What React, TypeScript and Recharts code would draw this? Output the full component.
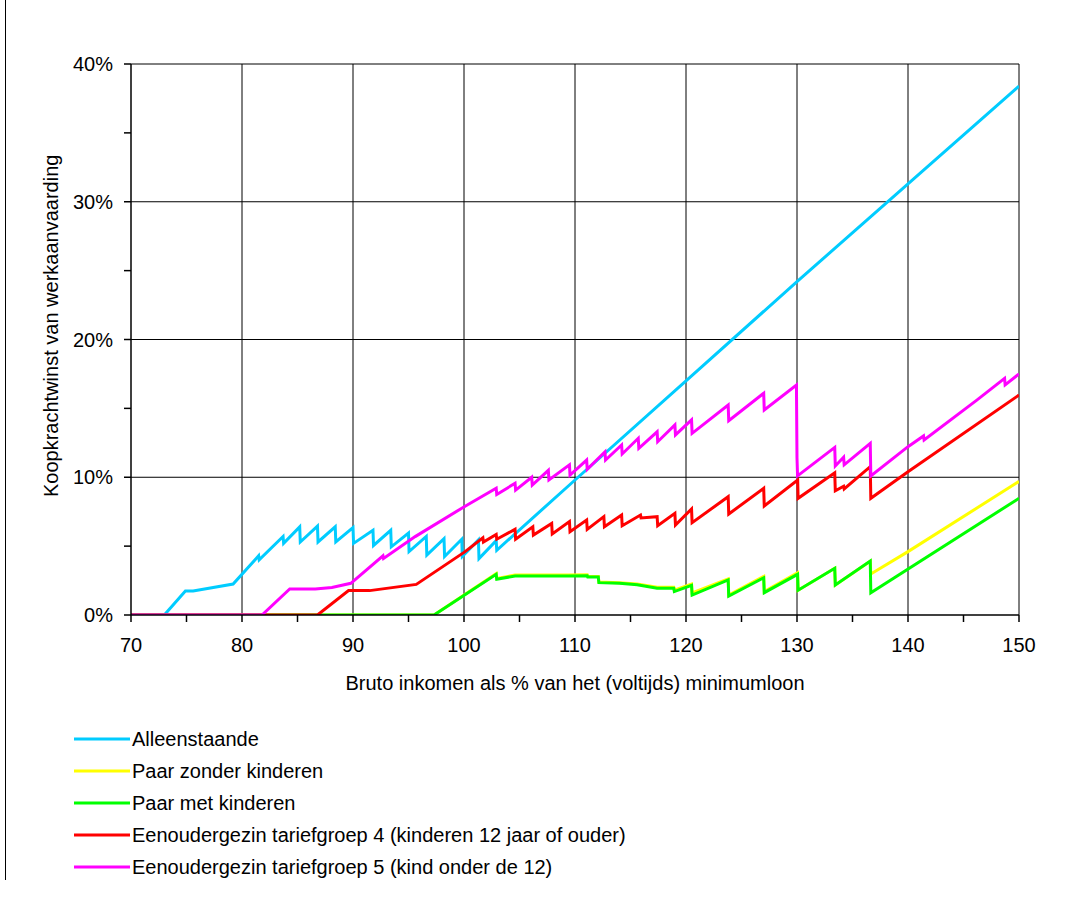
import { LineChart, Line, XAxis, YAxis, CartesianGrid, Label, Legend } from "recharts"

type Pt = [number, number]

const xTicks = [70, 75, 80, 85, 90, 95, 100, 105, 110, 115, 120, 125, 130, 135, 140, 145, 150]
const yTicks = [0, 5, 10, 15, 20, 25, 30, 35, 40]
const xGrid = [80, 90, 100, 110, 120, 130, 140, 150]
const yGrid = [10, 20, 30, 40]

// koopkrachtwinst (%) per bruto inkomen (% WML)
const alleenstaande: Pt[] = [
  [70, 0], [73.0, 0], [74.9, 1.75], [75.6, 1.75], [79.2, 2.25], [81.5, 4.3], [81.55, 4.0],
  [83.7, 5.7], [83.75, 5.2], [85.2, 6.4], [85.25, 5.3], [86.8, 6.45], [86.85, 5.3],
  [88.4, 6.4], [88.45, 5.3], [90.0, 6.35], [90.05, 5.2], [91.8, 6.15], [91.85, 5.05],
  [93.4, 6.15], [93.45, 4.95], [95.0, 5.95], [95.05, 4.6], [96.6, 5.7], [96.65, 4.35],
  [98.2, 5.55], [98.25, 4.25], [99.8, 5.5], [99.85, 4.25], [101.3, 5.45], [101.35, 4.1],
  [102.9, 5.4], [102.95, 4.7], [110, 9.8], [120, 17.0], [130, 24.2], [140, 31.3], [150, 38.4],
]

const paarZonder: Pt[] = [
  [70, 0], [97.3, 0], [102.9, 3.0], [102.95, 2.65], [104.6, 2.9], [109.4, 2.9], [111.1, 2.92],
  [111.15, 2.8], [112.1, 2.8], [112.15, 2.4], [114.0, 2.35], [115.6, 2.25], [117.4, 2.02],
  [118.9, 2.02], [118.95, 1.8], [120.5, 2.25], [120.55, 1.6], [123.8, 2.62], [123.85, 1.45],
  [127.0, 2.8], [127.05, 1.7], [130.05, 3.07], [130.1, 1.8], [133.4, 3.39], [133.45, 2.18],
  [136.6, 3.9], [136.65, 2.98], [140, 4.6], [150, 9.7],
]

const paarMet: Pt[] = [
  [70, 0], [97.3, 0], [102.9, 2.95], [102.95, 2.6], [104.6, 2.83], [109.4, 2.83], [111.1, 2.85],
  [111.15, 2.75], [112.1, 2.75], [112.15, 2.35], [114.0, 2.3], [115.6, 2.2], [117.4, 1.95],
  [118.9, 1.95], [118.95, 1.7], [120.5, 2.15], [120.55, 1.45], [123.8, 2.55], [123.85, 1.38],
  [127.0, 2.7], [127.05, 1.62], [130.05, 2.95], [130.1, 1.8], [133.4, 3.39], [133.45, 2.18],
  [136.6, 3.92], [136.65, 1.62], [150, 8.47],
]

const eenouder4: Pt[] = [
  [70, 0], [86.8, 0], [89.6, 1.77], [91.5, 1.77], [95.7, 2.22], [100.1, 4.6], [101.7, 5.6],
  [101.75, 5.3], [102.9, 5.85], [102.95, 5.5], [104.6, 6.22], [104.65, 5.5], [106.2, 6.41],
  [106.25, 5.8], [107.9, 6.65], [107.95, 5.88], [109.5, 6.78], [109.55, 6.05], [111.05, 6.9],
  [111.1, 6.22], [112.6, 7.14], [112.65, 6.41], [114.2, 7.26], [114.25, 6.48], [115.9, 7.26],
  [115.95, 7.05], [117.4, 7.14], [117.45, 6.48], [119.0, 7.38], [119.05, 6.53], [120.5, 7.7],
  [120.55, 6.7], [123.8, 8.59], [123.85, 7.33], [127.0, 9.2], [127.05, 7.91], [130.06, 9.8],
  [130.1, 8.47], [133.4, 10.33], [133.45, 9.02], [134.2, 9.35], [134.25, 9.15], [136.6, 10.77],
  [136.65, 8.47], [140, 10.4], [150, 15.97],
]

const eenouder5: Pt[] = [
  [70, 0], [81.8, 0], [84.3, 1.89], [86.6, 1.89], [88.1, 2.0], [89.8, 2.3], [92.7, 4.3],
  [92.75, 4.1], [95.6, 5.69], [100.1, 7.9], [102.9, 9.2], [102.95, 8.75], [104.6, 9.56],
  [104.65, 9.07], [106.1, 10.0], [106.15, 9.43], [107.6, 10.5], [107.65, 9.8], [109.5, 10.9],
  [109.55, 10.16], [111.05, 11.25], [111.1, 10.58], [112.7, 11.85], [112.75, 11.25],
  [114.2, 12.34], [114.25, 11.69], [115.7, 12.83], [115.75, 12.1], [117.4, 13.3],
  [117.45, 12.58], [119.0, 13.8], [119.05, 13.07], [120.5, 14.16], [120.55, 13.19],
  [123.8, 15.24], [123.85, 14.1], [127.0, 16.1], [127.05, 14.88], [129.95, 16.7], [130.0, 11.4],
  [130.05, 10.1], [133.4, 12.17], [133.45, 10.82], [134.2, 11.45], [134.25, 10.9],
  [136.6, 12.46], [136.65, 10.09], [140.0, 12.22], [141.4, 13.0], [141.45, 12.7],
  [146.2, 15.6], [148.7, 17.18], [148.75, 16.7], [150, 17.5],
]

const series = [
  { name: "Alleenstaande", color: "#00CCFF", points: alleenstaande },
  { name: "Paar zonder kinderen", color: "#FFFF00", points: paarZonder },
  { name: "Paar met kinderen", color: "#00FF00", points: paarMet },
  { name: "Eenoudergezin tariefgroep 4 (kinderen 12 jaar of ouder)", color: "#FF0000", points: eenouder4 },
  { name: "Eenoudergezin tariefgroep 5 (kind onder de 12)", color: "#FF00FF", points: eenouder5 },
]

const font = "'Liberation Sans', Arial, sans-serif"

const toRows = (pts: Pt[]) => pts.map(([x, y]) => ({ x, y }))

function XTick(props: any) {
  const { x, y, payload } = props
  const major = payload.value % 10 === 0
  return (
    <g>
      <line x1={x} x2={x} y1={y} y2={y + 7} stroke="#000" strokeWidth={1.5} />
      {major && (
        <text x={x} y={y + 37} textAnchor="middle" fontSize={20} fontFamily={font} fill="#000">
          {payload.value}
        </text>
      )}
    </g>
  )
}

function YTick(props: any) {
  const { x, y, payload } = props
  const major = payload.value % 10 === 0
  return (
    <g>
      <line x1={x - 7} x2={x} y1={y} y2={y} stroke="#000" strokeWidth={1.5} />
      {major && (
        <text x={x - 18} y={y + 7} textAnchor="end" fontSize={20} fontFamily={font} fill="#000">
          {payload.value}%
        </text>
      )}
    </g>
  )
}

function LegendBox() {
  return (
    <div style={{ fontFamily: font, fontSize: 20, color: "#000" }}>
      {series.map((s) => (
        <div key={s.name} style={{ display: "flex", alignItems: "center", height: 32 }}>
          <svg width={58} height={6} style={{ display: "block" }}>
            <line x1={0} x2={56} y1={3} y2={3} stroke={s.color} strokeWidth={3} />
          </svg>
          <span style={{ lineHeight: "32px" }}>{s.name}</span>
        </div>
      ))}
    </div>
  )
}

export default function App() {
  return (
    <div style={{ position: "absolute", left: 0, top: 0, width: 1073, height: 907, background: "#fff" }}>
      <div style={{ position: "absolute", left: 5, top: 0, width: 0, height: 880, borderLeft: "1.5px solid #000" }} />
      <LineChart width={1073} height={907} margin={{ top: 64, right: 54, bottom: 252, left: 71 }}>
        <CartesianGrid stroke="#000" strokeWidth={1} horizontalValues={yGrid} verticalValues={xGrid} />
        <XAxis
          dataKey="x"
          type="number"
          domain={[70, 150]}
          ticks={xTicks}
          interval={0}
          height={40}
          tickSize={0}
          tickMargin={0}
          tickLine={false}
          tick={<XTick />}
          axisLine={{ stroke: "#000", strokeWidth: 1.5 }}
          allowDataOverflow
        >
          <Label
            content={() => (
              <text x={575} y={690} textAnchor="middle" fontSize={20} fontFamily={font} fill="#000">
                Bruto inkomen als % van het (voltijds) minimumloon
              </text>
            )}
          />
        </XAxis>
        <YAxis
          type="number"
          domain={[0, 40]}
          ticks={yTicks}
          interval={0}
          width={60}
          tickSize={0}
          tickMargin={0}
          tickLine={false}
          tick={<YTick />}
          axisLine={{ stroke: "#000", strokeWidth: 1.5 }}
          allowDataOverflow
        >
          <Label
            content={() => (
              <text
                x={58}
                y={497}
                transform="rotate(-90 58 497)"
                textAnchor="start"
                fontSize={20}
                fontFamily={font}
                fill="#000"
              >
                Koopkrachtwinst van werkaanvaarding
              </text>
            )}
          />
        </YAxis>
        {series.map((s) => (
          <Line
            key={s.name}
            data={toRows(s.points)}
            dataKey="y"
            name={s.name}
            type="linear"
            stroke={s.color}
            strokeWidth={3}
            dot={false}
            activeDot={false}
            isAnimationActive={false}
          />
        ))}
        <Legend
          layout="vertical"
          align="center"
          verticalAlign="middle"
          content={() => <LegendBox />}
          wrapperStyle={{ position: "absolute", left: 74, top: 723, width: 700 }}
        />
      </LineChart>
    </div>
  )
}
